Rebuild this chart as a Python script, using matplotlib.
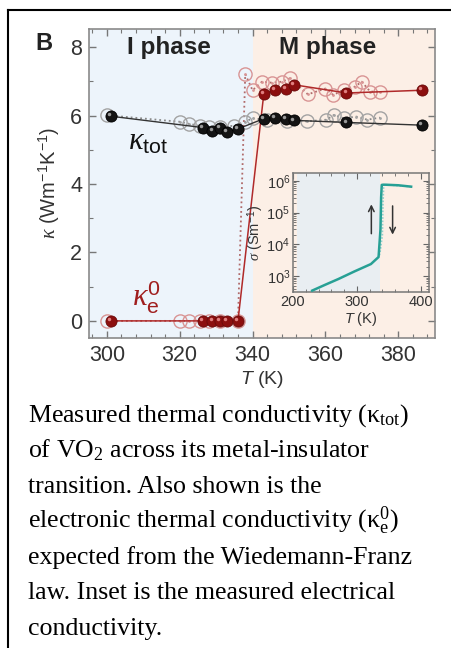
import matplotlib
matplotlib.use("Agg")
import matplotlib.pyplot as plt
import numpy as np
from matplotlib.ticker import MultipleLocator, LogLocator, NullFormatter
from matplotlib.transforms import ScaledTranslation
from matplotlib.lines import Line2D

plt.rcParams['font.family'] = ['Liberation Sans', 'DejaVu Sans']
plt.rcParams['mathtext.fontset'] = 'custom'
plt.rcParams['mathtext.rm'] = 'Liberation Sans'
plt.rcParams['mathtext.it'] = 'Liberation Serif:italic'
plt.rcParams['mathtext.bfit'] = 'Liberation Sans:italic'
plt.rcParams['mathtext.sf'] = 'Liberation Sans'
plt.rcParams['mathtext.bf'] = 'Liberation Sans:bold'
plt.rcParams['mathtext.tt'] = 'Liberation Serif'

#%% data
# heating, filled symbols (kappa_tot black, kappa_e0 red)
T_heat = [301.2, 326.3, 329.0, 331.0, 333.0, 336.0, 343.1, 346.2, 349.2, 351.4, 365.8, 386.5]
k_tot_heat = [5.98, 5.65, 5.55, 5.63, 5.53, 5.61, 5.91, 5.93, 5.91, 5.86, 5.80, 5.72]
k_e_heat = [0, 0, 0, 0, 0, 0, 6.64, 6.75, 6.77, 6.90, 6.66, 6.74]

# cooling, open symbols
T_cool_tot = [300.0, 320.0, 322.5, 325.5, 328.0, 331.0, 335.0, 338.0, 340.0, 344.0,
              349.5, 355.0, 360.3, 362.4, 365.0, 368.5, 371.5, 375.0]
k_tot_cool = [6.01, 5.82, 5.76, 5.70, 5.66, 5.68, 5.70, 5.82, 5.92, 5.87,
              5.84, 5.83, 5.88, 6.02, 5.92, 5.97, 5.88, 5.94]
T_cool_e = [300.0, 320.0, 322.5, 325.5, 328.0, 331.0, 336.0, 338.0, 340.0, 342.6,
            345.3, 348.0, 350.3, 355.2, 360.0, 362.2, 365.0, 368.0, 370.0, 372.3, 375.0]
k_e_cool = [0, 0, 0, 0, 0, 0, 0, 7.21, 6.74, 6.99,
            6.96, 6.99, 7.09, 6.62, 6.79, 6.60, 6.76, 6.84, 6.99, 6.70, 6.70]

# inset: electrical conductivity (S/m)
T_sig_up = [230, 250, 271, 296, 322, 334, 337, 338, 339, 341, 345, 365, 385]
sig_up = [3.5e2, 5.3e2, 8.1e2, 1.4e3, 2.4e3, 4.0e3, 3e4, 3e5, 7.5e5, 7.6e5, 7.6e5, 7.3e5, 6.6e5]
T_sig_dn = [385, 345, 342, 341, 340, 336, 334]
sig_dn = [6.6e5, 7.6e5, 7.6e5, 2e5, 2e4, 5e3, 4.0e3]

x_ticks = [300, 320, 340, 360, 380]
y_ticks = [0, 2, 4, 6, 8]
T_mit = 340
T_mit_inset = 337

caption = [
    'Measured thermal conductivity (κ$_{\\mathtt{tot}}$)',
    'of VO$_{\\mathtt{2}}$ across its metal-insulator',
    'transition. Also shown is the',
    'electronic thermal conductivity (κ$_{\\mathtt{e}}^{\\mathtt{0}}$)',
    'expected from the Wiedemann-Franz',
    'law. Inset is the measured electrical',
    'conductivity.',
]

#%%
W, H = 452, 648
fig = plt.figure(figsize=(W / 100, H / 100), dpi=100)

ax = fig.add_axes([89 / W, 1 - 338 / H, 346 / W, 309 / H])
ax.set_xlim(295.1, 390.1)
ax.set_ylim(-0.5, 8.53)

blue = '#edf4fb'
salmon = '#fcefe6'
ax.axvspan(295.1, T_mit, color=blue, lw=0, zorder=0)
ax.axvspan(T_mit, 390.1, color=salmon, lw=0, zorder=0)

grey_open = '#a3a3a3'
red_open = '#d99494'
# open symbols (cooling) with dotted lines
ax.plot(T_cool_tot, k_tot_cool, ls=':', color='#8a8a8a', lw=1.3, zorder=2)
ax.plot(T_cool_tot, k_tot_cool, ls='none', marker='o', ms=9.5, mfc='none', mec=grey_open, mew=1.0, zorder=3)
ax.plot(T_cool_tot, k_tot_cool, ls='none', marker='o', ms=2, mfc=grey_open, mec='none', zorder=3)
ax.plot(T_cool_e, k_e_cool, ls=':', color='#b06a6a', lw=1.3, zorder=2)
ax.plot(T_cool_e, k_e_cool, ls='none', marker='o', ms=9.5, mfc='none', mec=red_open, mew=1.0, zorder=3)
ax.plot(T_cool_e, k_e_cool, ls='none', marker='o', ms=2, mfc=red_open, mec='none', zorder=3)

# filled spheres (heating)
hl = ax.transData + ScaledTranslation(-1.3 / 72, 1.3 / 72, fig.dpi_scale_trans)
ax.plot(T_heat, k_tot_heat, color='#333333', lw=1.0, zorder=4)
ax.plot(T_heat, k_tot_heat, ls='none', marker='o', ms=8, mfc='#141414', mec='#000000', mew=0.6, zorder=5)
ax.plot(T_heat, k_tot_heat, ls='none', marker='o', ms=2.5, mfc='#9a9a9a', mec='none', zorder=6, transform=hl)
ax.plot(T_heat, k_e_heat, color='#b02a2a', lw=1.1, zorder=4)
ax.plot(T_heat, k_e_heat, ls='none', marker='o', ms=8, mfc='#8c0f0f', mec='#6a0a0a', mew=0.6, zorder=5)
ax.plot(T_heat, k_e_heat, ls='none', marker='o', ms=2.5, mfc='#e08080', mec='none', zorder=6, transform=hl)

ax.set_xticks(x_ticks)
ax.set_yticks(y_ticks)
ax.xaxis.set_minor_locator(MultipleLocator(4))
ax.yaxis.set_minor_locator(MultipleLocator(1))
ax.tick_params(which='both', direction='in', top=True, right=True, colors='#777777',
               labelcolor='#333333', labelsize=15.5)
ax.tick_params(which='major', length=5, width=1)
ax.tick_params(which='minor', length=3, width=0.8)
ax.tick_params(axis='x', pad=5)
ax.tick_params(axis='y', pad=5)
for s in ax.spines.values():
    s.set_color('#8a8a8a')
    s.set_linewidth(1.2)

ax.set_xlabel(r'$\mathbfit{T}$ (K)', fontsize=14, color='#333333', labelpad=2)
ax.set_ylabel(r'$\kappa$ (Wm$^{-1}$K$^{-1}$)', fontsize=14.5, color='#333333', labelpad=6)

ax.text(317, 8.0, 'I phase', fontsize=17.5, fontweight='bold', ha='center', va='center', color='#222222')
ax.text(360.5, 8.0, 'M phase', fontsize=17.5, fontweight='bold', ha='center', va='center', color='#222222')
ax.text(305.8, 5.0, r'$\kappa_{\mathrm{tot}}$', fontsize=22, color='#111111', va='baseline')
ax.text(306.8, 0.42, r'$\kappa_{\mathrm{e}}^{\mathrm{0}}$', fontsize=22, color='#a01e1e', va='baseline')
fig.text(44 / W, 1 - 44 / H, 'B', fontsize=17, fontweight='bold', ha='center', va='center', color='#222222')

#%% inset
ax2 = fig.add_axes([293 / W, 1 - 292 / H, 136 / W, 119 / H])
ax2.set_facecolor(salmon)
ax2.set_xlim(207, 413)
ax2.set_yscale('log')
ax2.set_ylim(10 ** 2.5, 10 ** 6.25)
ax2.axvspan(207, T_mit_inset, color='#e9eef2', lw=0, zorder=0)
ax2.plot(T_sig_dn, sig_dn, color='#8fd0cc', lw=1.2, ls=(0, (1, 1)), zorder=2)
ax2.plot(T_sig_up, sig_up, color='#27a095', lw=1.8, zorder=3)
ax2.annotate('', xy=(322.7, 10 ** 5.35), xytext=(322.7, 10 ** 4.25),
             arrowprops=dict(arrowstyle='->', color='#333333', lw=1.1))
ax2.annotate('', xy=(356, 10 ** 4.22), xytext=(356, 10 ** 5.3),
             arrowprops=dict(arrowstyle='->', color='#333333', lw=1.1))
ax2.set_xticks([200, 300, 400])
ax2.xaxis.set_minor_locator(MultipleLocator(20))
ax2.yaxis.set_major_locator(LogLocator(base=10, numticks=10))
ax2.yaxis.set_minor_locator(LogLocator(base=10, subs=np.arange(2, 10), numticks=10))
ax2.yaxis.set_minor_formatter(NullFormatter())
ax2.tick_params(which='both', direction='in', top=True, right=True, colors='#666666',
                labelcolor='#333333', labelsize=10.5, pad=2)
ax2.tick_params(which='major', length=4)
ax2.tick_params(which='minor', length=2.5)
for s in ax2.spines.values():
    s.set_color('#777777')
    s.set_linewidth(1.1)
ax2.set_xlabel(r'$\mathbfit{T}$ (K)', fontsize=10.5, color='#333333', labelpad=1)
ax2.set_ylabel(r'$\sigma$ (Sm$^{-1}$)', fontsize=10.5, color='#333333', labelpad=0)

#%% frame and caption
fig.add_artist(Line2D([8 / W, 8 / W], [0, 1 - 10 / H], transform=fig.transFigure, color='black', lw=1.5))
fig.add_artist(Line2D([8 / W, 1], [1 - 10 / H, 1 - 10 / H], transform=fig.transFigure, color='black', lw=1.5))

for i, line in enumerate(caption):
    fig.text(28 / W, 1 - (421.7 + i * 35.5) / H, line, fontsize=18.6, family='Liberation Serif',
             va='baseline', ha='left', color='black')

fig.savefig('out.png', dpi=100)
